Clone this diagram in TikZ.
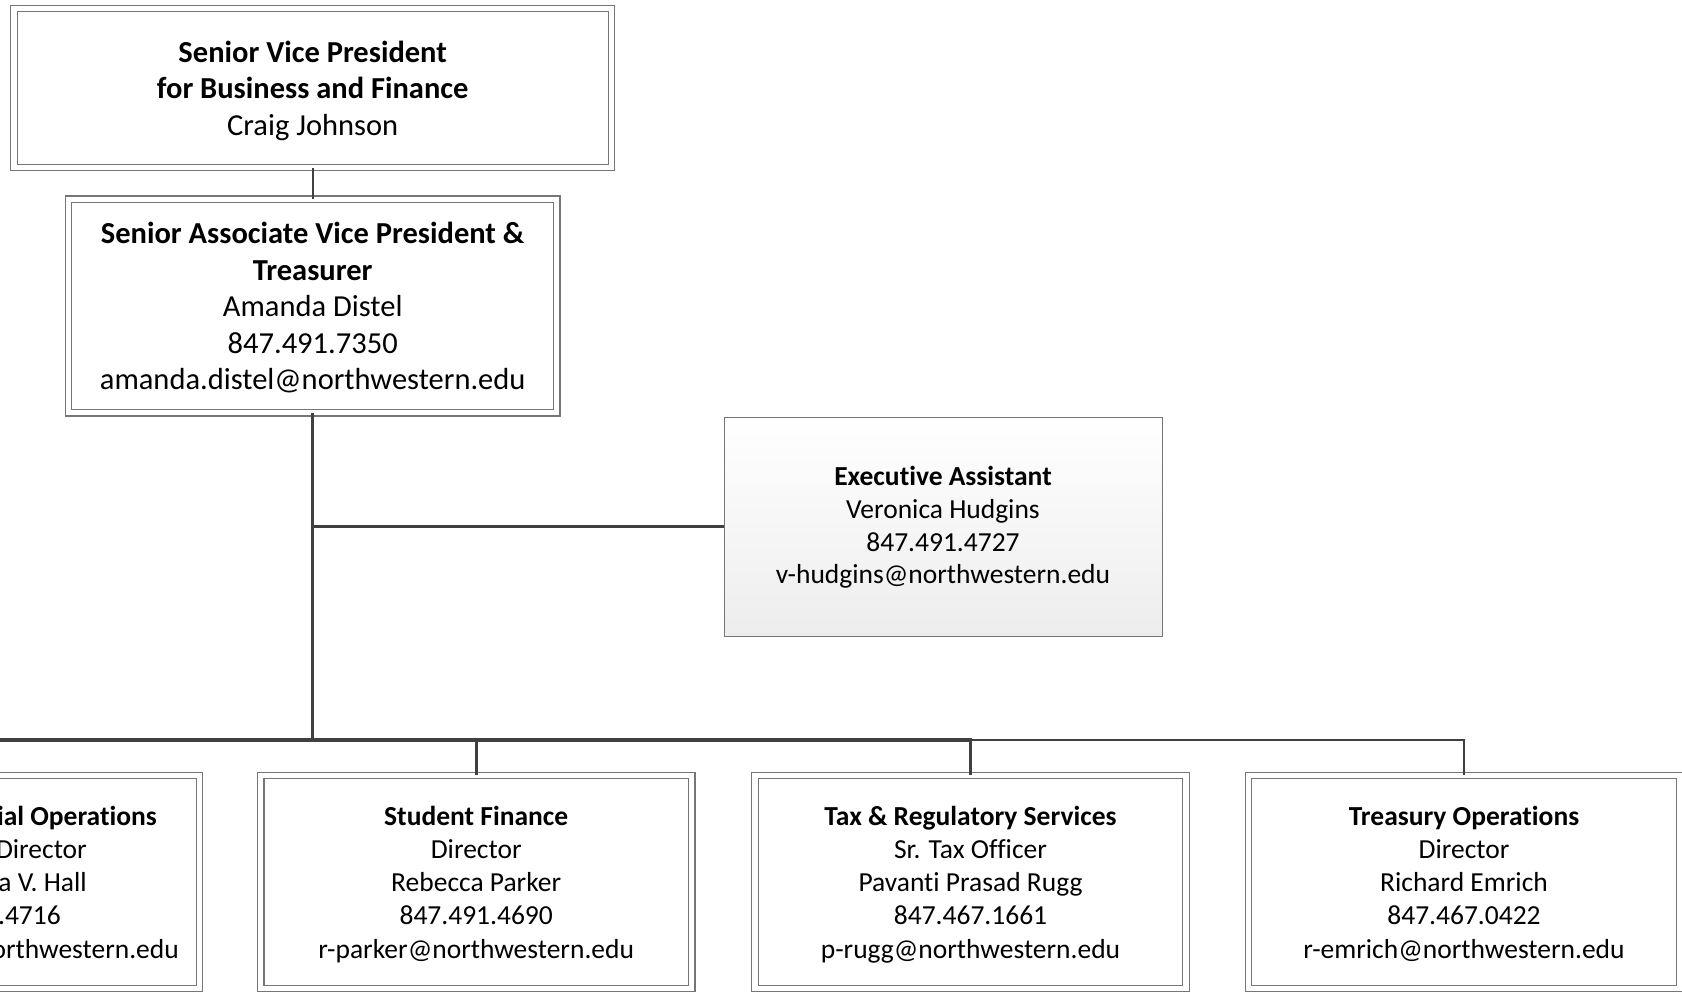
\documentclass[tikz,border=0pt]{standalone}
\usepackage{fontspec}
\setmainfont{Carlito}[Ligatures=NoCommon]
\usetikzlibrary{calc}

\definecolor{wirecol}{HTML}{404040}
\definecolor{framecol}{HTML}{767676}

\begin{document}
\begin{tikzpicture}[x=1pt,y=-1pt,
    every node/.style={align=center,inner sep=0pt},
    office/.style={draw=framecol,double=white,double distance=5.2pt,line width=1.2pt,
      fill=white,font=\fontsize{30.5}{36.5}\selectfont,text depth=0pt},
    dept/.style={office,minimum width=431pt,minimum height=213pt,
      font=\fontsize{27.5}{33.2}\selectfont},
    assist/.style={draw=framecol,line width=1pt,top color=white,bottom color=gray!14,
      minimum width=438pt,minimum height=219pt,font=\fontsize{27.5}{32.7}\selectfont,
      text depth=3pt},
    wire/.style={draw=wirecol,line width=2.4pt},
    trunk/.style={wire,line width=3.3pt}]

  \useasboundingbox (0,0) rectangle (1682,993);
  \fill[white] (0,0) rectangle (1682,993);
  \clip (0,0) rectangle (1682,993);

  \node[office,minimum width=597.6pt,minimum height=158.8pt] (svp) at (312.7,88)
    {\textbf{Senior Vice President}\\\textbf{for Business and Finance}\\Craig Johnson};

  \node[office,minimum width=488.2pt,minimum height=213.6pt] (savp) at (312.7,306)
    {\textbf{Senior Associate Vice President \&}\\\textbf{Treasurer}\\Amanda Distel\\
     847.491.7350\\amanda.distel@northwestern.edu};

  \node[assist] (exec) at (943,526.5)
    {\textbf{Executive Assistant}\\Veronica Hudgins\\847.491.4727\\v-hudgins@northwestern.edu};

  % bottom row
  \node[dept] (finops) at (-16,882) {};
  \node[font=\fontsize{27.5}{33.2}\selectfont,align=right,anchor=east,text depth=0pt]
    (finopstext) at (179,882)
    {\textbf{ial Operations}\kern22pt\\Director\kern92pt\\a V. Hall\kern92pt\\
     .4716\kern118pt\\orthwestern.edu};

  \node[dept] (student) at (476.2,882)
    {\textbf{Student Finance}\\Director\\Rebecca Parker\\847.491.4690\\r-parker@northwestern.edu};

  \node[dept] (tax) at (970.5,882)
    {\textbf{Tax \& Regulatory Services}\\Sr. Tax Officer\\Pavanti Prasad Rugg\\847.467.1661\\
     p-rugg@northwestern.edu};

  \node[dept] (treasury) at (1464,882)
    {\textbf{Treasury Operations}\\Director\\Richard Emrich\\847.467.0422\\r-emrich@northwestern.edu};

  % connectors
  \coordinate (hub) at (312.7,740);
  \draw[wire] (svp.south) -- (savp.north);
  \draw[trunk] (savp.south) -- (hub);
  \draw[wire] (exec.west) -- (exec.west -| hub);
  \draw[trunk] (finops.north) |- (tax.north |- hub) -- (tax.north);
  \draw[trunk] (student.north) -- (student.north |- hub);
  \draw[wire] (tax.north |- hub) -| (treasury.north);
\end{tikzpicture}
\end{document}
